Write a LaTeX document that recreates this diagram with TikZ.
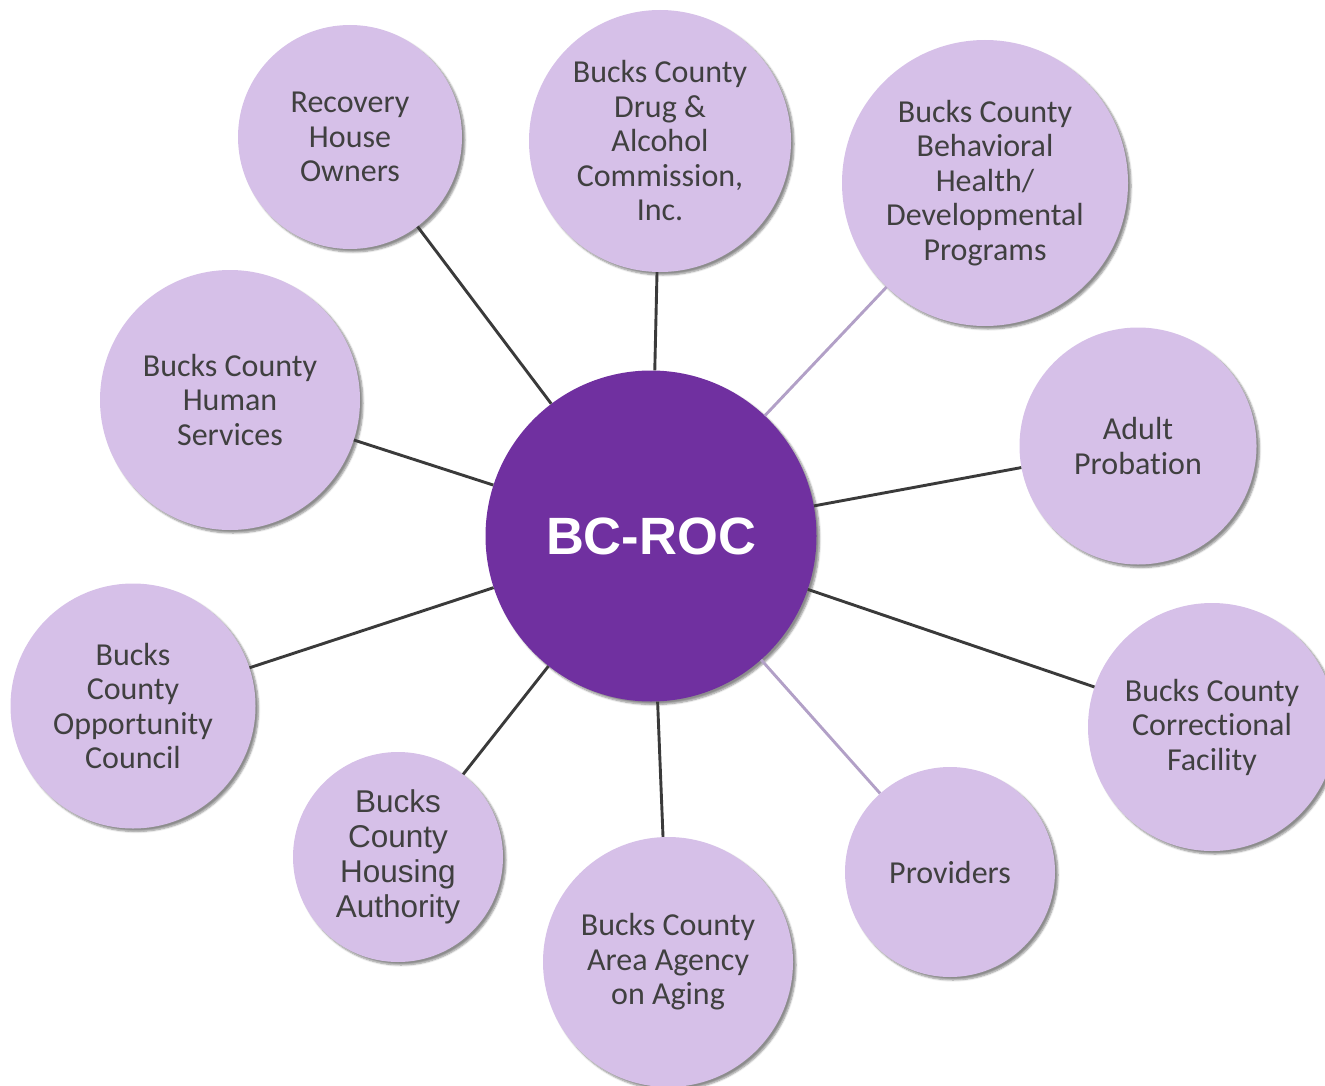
\documentclass[tikz,border=0pt]{standalone}
\usepackage{fontspec}
\setmainfont{Carlito}[Ligatures=NoCommon]
\newfontfamily\arialfont{Liberation Sans}
\usetikzlibrary{shadows.blur}

\definecolor{hubpurple}{RGB}{112,48,160}
\definecolor{lilac}{RGB}{214,192,232}
\definecolor{inkgray}{RGB}{64,64,64}
\definecolor{linegray}{RGB}{58,58,58}
\definecolor{softlilac}{RGB}{178,160,199}

\begin{document}
\begin{tikzpicture}[
    x=1pt, y=-1pt,
    font=\fontsize{32}{34.5}\selectfont,
    sat/.style={circle, fill=lilac, text=inkgray, align=center, inner sep=0pt,
      blur shadow={shadow xshift=3pt, shadow yshift=-3pt, shadow blur steps=6, shadow opacity=45}},
    hub/.style={sat, fill=hubpurple, text=white, font=\arialfont\bfseries\fontsize{52.5}{60}\selectfont},
    link/.style={draw=linegray, line width=2.9pt},
    soft/.style={draw=softlilac, line width=2.9pt},
  ]
    \useasboundingbox (0,0) rectangle (1325,1086);

    % Hub
    \node[hub, minimum size=331pt] (roc) at (651,536) {BC-ROC};

    % Upper ring
    \node[sat, minimum size=224pt] (rec) at (350,137) {Recovery\\House\\Owners};
    \node[sat, minimum size=262pt] (dac) at (660,141) {Bucks County\\Drug \&\\Alcohol\\Commission,\\Inc.};
    \node[sat, minimum size=286pt] (bhd) at (985,183) {Bucks County\\Behavioral\\Health/\\Developmental\\Programs};
    \node[sat, minimum size=237pt] (prob) at (1138,446) {Adult\\Probation};
    \node[sat, minimum size=260pt] (hsv) at (230,400) {Bucks County\\Human\\Services};

    % Lower ring
    \node[sat, minimum size=248pt] (ccf) at (1212,727) {Bucks County\\Correctional\\Facility};
    \node[sat, minimum size=210pt] (prov) at (950,872) {Providers};
    \node[sat, minimum size=250pt] (aaa) at (668,962) {Bucks County\\Area Agency\\on Aging};
    \node[sat, minimum size=210pt, font=\arialfont\fontsize{31.5}{35}\selectfont] (hous) at (398,857) {Bucks\\County\\Housing\\Authority};
    \node[sat, minimum size=245pt] (opp) at (133,706) {Bucks\\County\\Opportunity\\Council};

    % Spokes
    \draw[link] (roc) -- (rec);
    \draw[link] (roc) -- (dac);
    \draw[soft] (roc) -- (bhd);
    \draw[link] (roc) -- (prob);
    \draw[link] (roc) -- (ccf);
    \draw[soft] (roc) -- (prov);
    \draw[link] (roc) -- (aaa);
    \draw[link] (roc) -- (hous);
    \draw[link] (roc) -- (opp);
    \draw[link] (roc) -- (hsv);
\end{tikzpicture}
\end{document}
